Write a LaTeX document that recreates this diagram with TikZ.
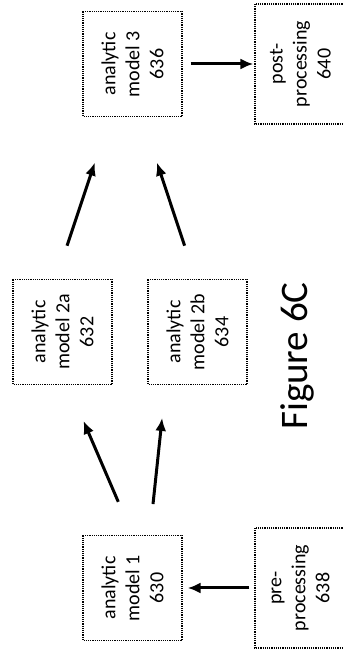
\documentclass[tikz,border=0pt]{standalone}
\usepackage{fontspec}
\setmainfont{Carlito}
\usetikzlibrary{arrows.meta}
\begin{document}
\begin{tikzpicture}[x=1pt,y=1pt,rotate=90,
  box/.style={rectangle,draw,densely dotted,line width=1.2pt,align=center,transform shape,
    minimum width=105pt,minimum height=99pt,inner sep=0pt,font=\fontsize{20}{24}\selectfont},
  endbox/.style={box,minimum width=120pt,minimum height=91pt},
  arr/.style={-{Latex[length=13pt,width=11pt]},line width=3pt}]
  \useasboundingbox (0,0) rectangle (654,344);
  \node[endbox] (pre) at (66,43.5) {pre-\\processing\\638};
  \node[box] (m1) at (66,211.5) {analytic\\model 1\\630};
  \node[box] (m2a) at (322,281.5) {analytic\\model 2a\\632};
  \node[box] (m2b) at (322,146.5) {analytic\\model 2b\\634};
  \node[box] (m3) at (590,211.5) {analytic\\model 3\\636};
  \node[endbox] (post) at (590,43.5) {post-\\processing\\640};
  \node[anchor=base,transform shape,font=\fontsize{39}{47}\selectfont] (fig) at (298,36) {Figure 6C};
  \draw[arr,shorten <=5pt,shorten >=5pt] (pre) -- (m1);
  \draw[arr,shorten <=36pt,shorten >=39pt] (m1.east) -- (m2a.186);
  \draw[arr,shorten <=31pt,shorten >=33pt] (m1.-18) -- (m2b.149);
  \draw[arr,shorten <=35pt,shorten >=48pt] (m2a.7) -- (m3.157);
  \draw[arr,shorten <=35pt,shorten >=48pt] (m2b.2) -- (m3.190);
  \draw[arr,shorten <=8pt,shorten >=1pt] (m3) -- (post);
\end{tikzpicture}
\end{document}
